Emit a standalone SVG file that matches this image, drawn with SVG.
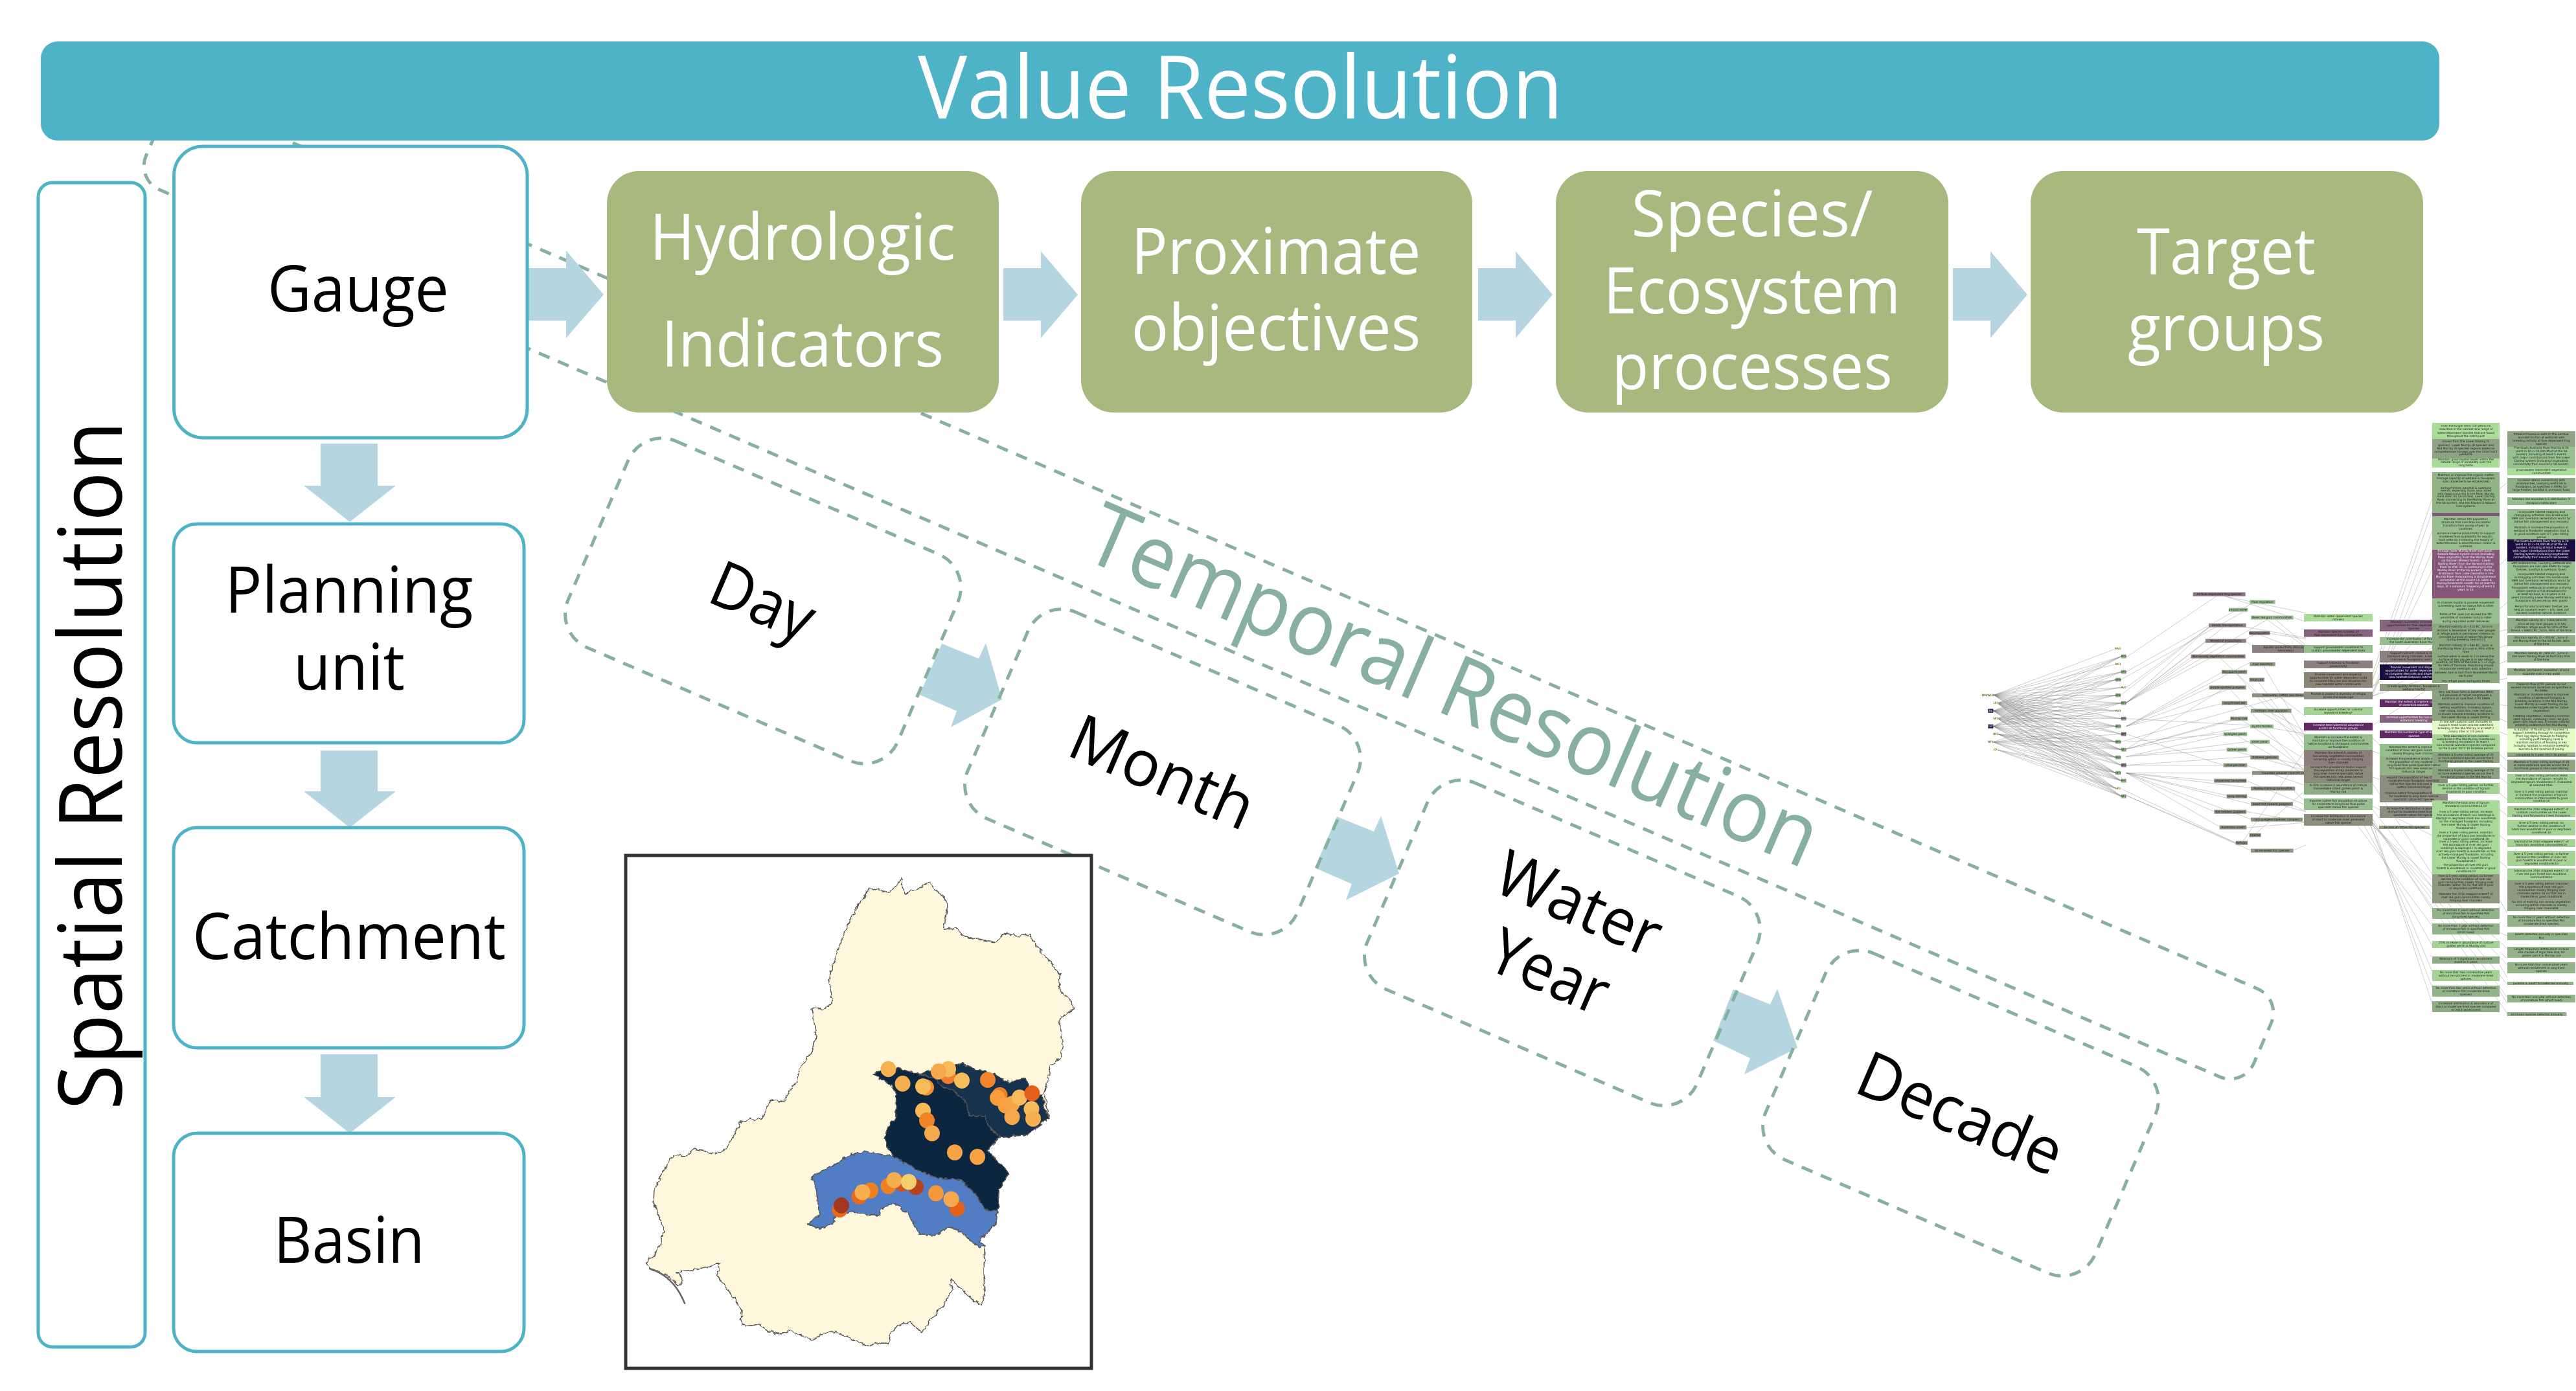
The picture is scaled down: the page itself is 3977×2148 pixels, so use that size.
<svg xmlns="http://www.w3.org/2000/svg" width="3977" height="2148" viewBox="0 0 3977 2148">
<defs>
<style>
text{font-family:"Open Sans","Liberation Sans",sans-serif;font-variant-ligatures:none}
.m{font-size:99px;fill:#000;text-anchor:middle}
.w{font-size:99px;fill:#fff;text-anchor:middle}
.box{fill:#fff;stroke:#4FB3C8;stroke-width:5}
.gr{fill:#A8B980}
.ar{fill:#B5D6E1}
.dash{fill:none;stroke:#87B0A0;stroke-width:5;stroke-dasharray:18 14}
.map{stroke:#555;stroke-width:3;stroke-linejoin:round}
.th text{font-family:"DejaVu Sans",sans-serif;font-size:4.4px;fill:#1c1c1c;text-anchor:middle}
.th .wt text{fill:#f4f0f4}
.sp text{font-size:13.2px}
.ln{fill:none;stroke:#9a9a9a;stroke-width:.6;stroke-opacity:.8}
.ln0{fill:none;stroke:#777;stroke-width:1.8;stroke-opacity:.6}
</style>
<filter id="soft" x="-2%" y="-2%" width="104%" height="104%"><feGaussianBlur stdDeviation="0.45"/></filter>
<filter id="wig" x="-5%" y="-5%" width="110%" height="110%"><feTurbulence type="fractalNoise" baseFrequency="0.07" numOctaves="2" seed="4"/><feDisplacementMap in="SourceGraphic" scale="14" xChannelSelector="R" yChannelSelector="G"/></filter>
</defs>
<rect width="3977" height="2148" fill="#fff"/>
<g id="temporal-frame"><rect class="dash" x="-1771.5" y="-74" width="3543" height="148" rx="40" transform="translate(1866,910) rotate(23.3)"/></g>
<g id="value-resolution"><rect x="63" y="64" width="3703" height="153" rx="26" fill="#4FB3C8"/><text class="w" x="1915" y="183" style="font-size:135px" textLength="996" lengthAdjust="spacingAndGlyphs">Value Resolution</text></g>
<g id="spatial-resolution"><rect class="box" x="59" y="282" width="165" height="1798" rx="22"/><text class="m" style="font-size:135px" transform="translate(188,1182) rotate(-90)" textLength="1064" lengthAdjust="spacingAndGlyphs">Spatial Resolution</text></g>
<g id="connectors">
<polygon class="ar" points="816,414 874,414 874,387 932,455 874,522 874,495 816,495"/>
<polygon class="ar" points="1549,414 1607,414 1607,388 1664,455 1607,522 1607,495 1549,495"/>
<polygon class="ar" points="2282,414 2340,414 2340,388 2397,455 2340,522 2340,495 2282,495"/>
<polygon class="ar" points="3015,414 3073,414 3073,388 3130,455 3073,522 3073,495 3015,495"/>
<polygon class="ar" points="495,685 583,685 583,750 611,750 540,806 469,750 495,750"/>
<polygon class="ar" points="495,1159 583,1159 583,1222 611,1222 540,1278 469,1222 495,1222"/>
<polygon class="ar" points="495,1628 583,1628 583,1694 611,1694 540,1750 469,1694 495,1694"/>
<polygon class="ar" points="1454,994 1511,1017 1522,993 1547,1080 1468,1123 1477,1098 1420,1073"/>
<polygon class="ar" points="2064,1261 2121,1284 2132,1260 2160,1349 2078,1390 2087,1365 2030,1340"/>
<polygon class="ar" points="2676,1528 2733,1551 2744,1527 2775,1618 2693,1659 2702,1634 2645,1607"/>
</g>
<g id="gauge"><rect class="box" x="268.500" y="226" width="545.500" height="450" rx="45"/><text class="m" x="553" y="481" textLength="280" lengthAdjust="spacingAndGlyphs">Gauge</text></g>
<g id="planning-unit"><rect class="box" x="268" y="809" width="541" height="338" rx="36"/><text class="m" x="539" y="946" textLength="383" lengthAdjust="spacingAndGlyphs">Planning</text><text class="m" x="539" y="1065" textLength="172" lengthAdjust="spacingAndGlyphs">unit</text></g>
<g id="catchment"><rect class="box" x="268" y="1278" width="541" height="340" rx="36"/><text class="m" x="539" y="1481" textLength="484" lengthAdjust="spacingAndGlyphs">Catchment</text></g>
<g id="basin"><rect class="box" x="268" y="1750" width="541" height="337" rx="36"/><text class="m" x="539" y="1950" textLength="233" lengthAdjust="spacingAndGlyphs">Basin</text></g>
<g id="hydrologic-indicators"><rect class="gr" x="937" y="264" width="605" height="373" rx="50"/><text class="w" x="1239" y="401" textLength="472" lengthAdjust="spacingAndGlyphs">Hydrologic</text><text class="w" x="1239" y="566" textLength="436" lengthAdjust="spacingAndGlyphs">Indicators</text></g>
<g id="proximate-objectives"><rect class="gr" x="1669" y="264" width="604" height="373" rx="50"/><text class="w" x="1970" y="423" textLength="447" lengthAdjust="spacingAndGlyphs">Proximate</text><text class="w" x="1970" y="541" textLength="447" lengthAdjust="spacingAndGlyphs">objectives</text></g>
<g id="species-ecosystem"><rect class="gr" x="2402" y="264" width="606" height="373" rx="50"/><text class="w" x="2705" y="365" textLength="373" lengthAdjust="spacingAndGlyphs">Species/</text><text class="w" x="2705" y="484" textLength="459" lengthAdjust="spacingAndGlyphs">Ecosystem</text><text class="w" x="2705" y="601" textLength="433" lengthAdjust="spacingAndGlyphs">processes</text></g>
<g id="target-groups"><rect class="gr" x="3135" y="264" width="606" height="373" rx="50"/><text class="w" x="3437" y="423" textLength="276" lengthAdjust="spacingAndGlyphs">Target</text><text class="w" x="3437" y="541" textLength="304" lengthAdjust="spacingAndGlyphs">groups</text></g>
<g id="temporal-title" transform="translate(2244,1060) rotate(23.3)"><text style="font-size:135px;fill:#87B0A0;text-anchor:middle" y="45" textLength="1215" lengthAdjust="spacingAndGlyphs">Temporal Resolution</text></g>
<g id="day" transform="translate(1178,928) rotate(23.3)"><rect class="dash" x="-277" y="-173.500" width="554" height="347" rx="56"/><text class="m" y="35" textLength="165" lengthAdjust="spacingAndGlyphs">Day</text></g>
<g id="month" transform="translate(1795,1192) rotate(23.3)"><rect class="dash" x="-277" y="-173.500" width="554" height="347" rx="56"/><text class="m" y="35" textLength="300" lengthAdjust="spacingAndGlyphs">Month</text></g>
<g id="water-year" transform="translate(2412,1456) rotate(23.3)"><rect class="dash" x="-277" y="-173.500" width="554" height="347" rx="56"/><text class="m" y="-31" textLength="268" lengthAdjust="spacingAndGlyphs">Water</text><text class="m" y="83" textLength="190" lengthAdjust="spacingAndGlyphs">Year</text></g>
<g id="decade" transform="translate(3027,1719) rotate(23.3)"><rect class="dash" x="-277" y="-173.500" width="554" height="347" rx="56"/><text class="m" y="35" textLength="335" lengthAdjust="spacingAndGlyphs">Decade</text></g>

<g id="map">
<rect x="966" y="1321" width="719" height="792" fill="#fff" stroke="#333" stroke-width="5"/>
<g transform="translate(940,1300) scale(.5,.5357)">
<g filter="url(#wig)">
<polygon class="map" fill="#FFF8DD" points="905,103 908,125 912,148 935,140 965,128 990,118 1012,140 1030,155 1048,180 1040,215 1035,252 1075,250 1090,270 1115,275 1140,282 1170,285 1195,290 1222,262 1260,272 1300,266 1320,300 1340,320 1360,345 1395,385 1390,425 1425,455 1437,480 1390,510 1402,580 1395,620 1365,645 1345,730 1360,795 1290,845 1205,850 1170,890 1235,955 1205,1000 1200,1065 1195,1100 1145,1150 1160,1165 1158,1240 1160,1300 1150,1335 1125,1322 1100,1300 1055,1260 1060,1290 1030,1340 1000,1370 965,1415 930,1382 895,1395 870,1410 865,1445 830,1445 795,1452 745,1430 690,1410 660,1420 625,1435 590,1420 560,1410 525,1418 490,1410 465,1390 440,1395 410,1390 412,1350 375,1300 335,1250 342,1215 305,1225 270,1232 210,1240 230,1265 215,1280 180,1250 125,1230 115,1212 140,1190 160,1160 170,1120 150,1070 138,1040 140,1000 170,950 180,925 200,905 240,905 265,885 295,890 320,900 355,890 385,850 405,810 440,800 470,800 500,745 540,750 560,715 580,690 590,650 630,600 640,560 628,480 660,485 690,465 680,390 705,320 720,280 735,245 775,175 805,135 865,145 890,125"/>
<polygon class="map" fill="#517DC5" points="625,965 690,935 740,905 790,890 860,905 880,905 950,945 1010,968 1090,975 1135,1020 1165,1060 1200,1065 1195,1100 1145,1150 1160,1165 1145,1170 1110,1145 1080,1120 1050,1110 1005,1135 960,1130 925,1075 890,1045 845,1050 835,1075 800,1075 750,1065 695,1085 690,1105 650,1115 615,1100 650,1075 640,1000"/>
<polygon class="map" fill="#0E2640" points="815,670 840,658 890,652 960,670 1010,680 1020,700 1060,715 1100,745 1115,790 1160,790 1170,815 1205,850 1170,890 1235,955 1205,1000 1200,1065 1165,1060 1135,1020 1090,975 1010,968 950,945 880,905 860,880 850,855 870,805 885,800 888,725 870,700 840,685"/>
<polygon class="map" fill="#14304D" points="960,670 1020,645 1090,640 1130,655 1180,668 1235,692 1285,680 1300,710 1340,735 1345,770 1360,795 1335,815 1290,845 1205,850 1170,815 1160,790 1115,790 1100,745 1060,715 1020,700 1010,680"/>
</g>
<path d="M125 1230Q200 1250 235 1332" fill="none" stroke="#666" stroke-width="5"/>
<g>
<ellipse cx="863" cy="655" rx="24" ry="23" fill="#F6B152"/>
<ellipse cx="907" cy="697" rx="24" ry="23" fill="#F5AE50"/>
<ellipse cx="980" cy="708" rx="24" ry="23" fill="#F58F30"/>
<ellipse cx="970" cy="705" rx="24" ry="23" fill="#F6BA58"/>
<ellipse cx="1048" cy="675" rx="24" ry="23" fill="#F08030"/>
<ellipse cx="1048" cy="655" rx="24" ry="23" fill="#F6BC5B"/>
<ellipse cx="1018" cy="662" rx="24" ry="23" fill="#F6A94C"/>
<ellipse cx="1090" cy="688" rx="24" ry="23" fill="#F6BE5A"/>
<ellipse cx="1170" cy="686" rx="24" ry="23" fill="#F2842B"/>
<ellipse cx="1207" cy="730" rx="24" ry="23" fill="#F0801F"/>
<ellipse cx="1200" cy="738" rx="24" ry="23" fill="#F89C3C"/>
<ellipse cx="1225" cy="760" rx="24" ry="23" fill="#F9A040"/>
<ellipse cx="1245" cy="755" rx="24" ry="23" fill="#F8A54A"/>
<ellipse cx="1268" cy="737" rx="24" ry="23" fill="#F6BA58"/>
<ellipse cx="1307" cy="725" rx="24" ry="23" fill="#E35F1A"/>
<ellipse cx="1305" cy="770" rx="24" ry="23" fill="#F6BC5B"/>
<ellipse cx="1245" cy="793" rx="24" ry="23" fill="#F6A94C"/>
<ellipse cx="1310" cy="798" rx="24" ry="23" fill="#F6B052"/>
<ellipse cx="970" cy="775" rx="24" ry="23" fill="#F6BA58"/>
<ellipse cx="982" cy="803" rx="24" ry="23" fill="#F08429"/>
<ellipse cx="998" cy="840" rx="24" ry="23" fill="#F6A94C"/>
<ellipse cx="1068" cy="895" rx="24" ry="23" fill="#F5A344"/>
<ellipse cx="1138" cy="908" rx="24" ry="23" fill="#F5A344"/>
<ellipse cx="808" cy="1005" rx="24" ry="23" fill="#F0801F"/>
<ellipse cx="773" cy="1022" rx="24" ry="23" fill="#E8691A"/>
<ellipse cx="783" cy="1010" rx="24" ry="23" fill="#F6AE50"/>
<ellipse cx="863" cy="992" rx="24" ry="23" fill="#F0801F"/>
<ellipse cx="905" cy="985" rx="24" ry="23" fill="#D0551C"/>
<ellipse cx="948" cy="995" rx="24" ry="23" fill="#B8421B"/>
<ellipse cx="881" cy="975" rx="24" ry="23" fill="#F6AD50"/>
<ellipse cx="926" cy="980" rx="24" ry="23" fill="#F2CF6A"/>
<ellipse cx="1010" cy="1013" rx="24" ry="23" fill="#F5983A"/>
<ellipse cx="1075" cy="1057" rx="24" ry="23" fill="#E4611A"/>
<ellipse cx="1057" cy="1030" rx="24" ry="23" fill="#F6A94C"/>
<ellipse cx="713" cy="1060" rx="24" ry="23" fill="#E8691A"/>
<ellipse cx="718" cy="1048" rx="24" ry="23" fill="#A33820"/>
</g>
</g>
</g>

<g id="network" class="th" filter="url(#soft)">
<g transform="translate(3040,900) scale(.3333)">
<path class="ln0" d="M115 520L680 305M115 520L705 341M115 520L680 377M115 520L705 413M115 520L680 449M115 520L705 485M115 520L680 521M115 520L705 557M115 520L680 593M115 520L705 629M115 520L680 665M115 520L705 701M115 520L680 737M115 520L705 773M115 520L680 809M115 520L705 845M115 520L680 881M115 520L705 917M130 557L705 341M130 557L705 413M130 557L680 449M130 557L705 485M130 557L680 521M130 557L705 557M130 557L680 593M130 557L705 629M130 557L680 665M130 557L705 701M130 557L680 737M130 557L705 773M130 557L680 809M130 557L705 845M130 557L680 881M130 557L705 917M130 557L680 953M130 557L705 989M112 593L705 341M112 593L705 413M112 593L680 449M112 593L705 485M112 593L680 521M112 593L705 557M112 593L680 593M112 593L705 629M112 593L680 665M112 593L705 701M112 593L680 737M112 593L705 773M112 593L680 809M112 593L705 845M112 593L680 881M112 593L705 917M112 593L680 953M112 593L705 989M132 629L705 341M132 629L680 449M132 629L680 521M132 629L705 557M132 629L705 629M132 629L680 665M132 629L680 737M132 629L705 773M132 629L680 809M132 629L680 881M132 629L705 917M132 629L680 953M132 629L705 989M112 665L705 341M112 665L705 413M112 665L680 449M112 665L680 521M112 665L705 557M112 665L680 593M112 665L680 665M112 665L680 737M112 665L705 773M112 665L680 809M112 665L705 845M112 665L680 881M112 665L705 917M112 665L680 953M112 665L705 989M135 701L680 737M135 701L705 773M135 701L680 809M135 701L705 845M135 701L680 881M135 701L705 917M135 701L680 953M135 701L705 989M110 737L705 557M110 737L680 665M110 737L705 701M110 737L680 737M110 737L705 773M110 737L680 809M110 737L680 881M110 737L705 917M110 737L680 953M110 737L705 989M128 773L680 881M128 773L705 917M128 773L680 953M128 773L705 989"/>
<path class="ln0" d="M728 345L1145 62M728 412L1240 125M702 449L1270 135M728 485L1112 205M702 521L1112 205M728 557L1112 205M728 557L1180 205M728 555L1095 275M728 557L1150 278M728 555L1030 345M728 555L1380 170M728 555L1330 235M728 665L1300 370M728 665L1170 415M728 665L1112 485M728 665L1210 490M728 665L1170 560M728 629L1300 660M728 770L1180 490M728 770L1210 635M728 770L1215 640M728 770L1300 665M728 737L1178 700M702 737L1440 530M728 805L1193 773M728 805L1300 735M728 805L1180 705M728 845L1178 845M728 845L1305 805M728 881L1310 881M728 881L1135 917M728 881L1305 950M728 881L1193 985M728 881L1305 1025M728 881L1135 1060M728 881L1160 1130M728 881L1305 1095M728 701L1178 845M702 953L1235 1205M728 985L1235 1205M728 985L1305 1240"/>
<path class="ln0" d="M1185 62L1560 140M1185 62L1560 180M1250 130L1310 95M1283 205L1560 255M1283 270L1310 295M1420 170L1560 290M1380 170L1560 300M1393 235L1560 260M1345 240L1560 325M1165 350L1560 720M1240 422L1560 780M1365 386L1560 720M1340 458L1560 760M1210 494L1560 880M1285 560L1560 720M1440 530L1560 620M1400 602L1560 690M1265 638L1560 820M1405 674L1560 700M1245 710L1560 890M1390 746L1560 870M1240 782L1560 870M1430 818L1560 850M1283 845L1560 940M1285 917L1560 1030M1505 962L1560 1020M1285 990L1560 1060M1500 1030L1560 1060M1285 1060L1560 1110M1540 1097L1560 1085M1285 1135L1560 1110M1330 1160L1560 960M1270 1196L1560 770M1500 1240L1560 1215"/>
<g id="sp0" class="sp">
<g id="s0a"><rect x="60" y="512" width="55" height="18" fill="#FFFFE0"/><text x="87" y="525">DM/WLB</text></g>
<g id="s0b"><rect x="112" y="548" width="24" height="18" fill="#FFFFE0"/><text x="124" y="561">LF2</text></g>
<g id="s0c" class="wt"><rect x="88" y="584" width="24" height="18" fill="#1C0F3F"/><text x="100" y="597">BK</text></g>
<g id="s0d"><rect x="112" y="620" width="24" height="18" fill="#FFFFE0"/><text x="124" y="633">SF2</text></g>
<g id="s0e" class="wt"><rect x="88" y="656" width="24" height="18" fill="#1C0F3F"/><text x="100" y="669">GZ</text></g>
<g id="s0f"><rect x="112" y="692" width="24" height="18" fill="#FFFFE0"/><text x="124" y="705">BF2</text></g>
<g id="s0g"><rect x="88" y="728" width="24" height="18" fill="#FFFFE0"/><text x="100" y="741">BF1</text></g>
<g id="s0h"><rect x="112" y="764" width="20" height="18" fill="#FFFFE0"/><text x="122" y="777">CF</text></g>
</g>
<g id="sp1" class="sp">
<g id="s1a"><rect x="678" y="296" width="24" height="18" fill="#FFFFE0"/><text x="690" y="309">MV2</text></g>
<g id="s1b"><rect x="704" y="332" width="24" height="18" fill="#97BE8E"/><text x="716" y="345">PP3</text></g>
<g id="s1c"><rect x="678" y="368" width="24" height="18" fill="#FFFFE0"/><text x="690" y="381">DS1</text></g>
<g id="s1d"><rect x="704" y="404" width="24" height="18" fill="#97BE8E"/><text x="716" y="417">AF3</text></g>
<g id="s1e"><rect x="678" y="440" width="24" height="18" fill="#97BE8E"/><text x="690" y="453">AP8</text></g>
<g id="s1f"><rect x="704" y="476" width="24" height="18" fill="#FFFFE0"/><text x="716" y="489">AV2</text></g>
<g id="s1g"><rect x="678" y="512" width="24" height="18" fill="#97BE8E"/><text x="690" y="525">AP6</text></g>
<g id="s1h"><rect x="704" y="548" width="24" height="18" fill="#97BE8E"/><text x="716" y="561">BF3</text></g>
<g id="s1i"><rect x="678" y="584" width="24" height="18" fill="#FFFFE0"/><text x="690" y="597">AV3</text></g>
<g id="s1j"><rect x="704" y="620" width="24" height="18" fill="#A8A8A0"/><text x="716" y="633">BP9</text></g>
<g id="s1k"><rect x="678" y="656" width="24" height="18" fill="#97BE8E"/><text x="690" y="669">BF3</text></g>
<g id="s1l"><rect x="704" y="692" width="24" height="18" fill="#8C8080"/><text x="716" y="705">BP7</text></g>
<g id="s1m"><rect x="678" y="728" width="24" height="18" fill="#97BE8E"/><text x="690" y="741">BP4</text></g>
<g id="s1n"><rect x="704" y="764" width="24" height="18" fill="#97BE8E"/><text x="716" y="777">NF2</text></g>
<g id="s1o"><rect x="678" y="800" width="24" height="18" fill="#97BE8E"/><text x="690" y="813">BK4</text></g>
<g id="s1p"><rect x="704" y="836" width="24" height="18" fill="#8C8080"/><text x="716" y="849">SF3</text></g>
<g id="s1q"><rect x="678" y="872" width="24" height="18" fill="#97BE8E"/><text x="690" y="885">NF3</text></g>
<g id="s1r"><rect x="704" y="908" width="24" height="18" fill="#97BE8E"/><text x="716" y="921">PP2</text></g>
<g id="s1s"><rect x="678" y="944" width="24" height="18" fill="#FFFFE0"/><text x="690" y="957">SF2</text></g>
<g id="s1t"><rect x="704" y="980" width="24" height="18" fill="#97BE8E"/><text x="716" y="993">NF1</text></g>
</g>
<g id="sp2" class="sp">
<g id="s2a"><rect x="1037" y="44" width="243" height="18" fill="#8D7085"/><text x="1158" y="57">All flow-dependent frog species</text></g>
<g id="s2b"><rect x="1203" y="116" width="87" height="18" fill="#97BE8E"/><text x="1246" y="129">ground water</text></g>
<g id="s2c"><rect x="1110" y="188" width="173" height="18" fill="#8C8080"/><text x="1196" y="201">Abiotic transportation</text></g>
<g id="s2d"><rect x="1095" y="260" width="188" height="18" fill="#8C8080"/><text x="1189" y="273">Terrestrial productivity</text></g>
<g id="s2e"><rect x="1028" y="332" width="252" height="18" fill="#8D7F7C"/><text x="1154" y="345">Non-woody vegetation communities</text></g>
<g id="s2f"><rect x="1170" y="404" width="118" height="18" fill="#8D9A80"/><text x="1229" y="417">Macquarie perch</text></g>
<g id="s2g"><rect x="1112" y="476" width="171" height="18" fill="#8D8E80"/><text x="1197" y="489">purple-spotted gudgeon</text></g>
<g id="s2h"><rect x="1170" y="548" width="118" height="18" fill="#8D8E80"/><text x="1229" y="561">long-finned eel</text></g>
<g id="s2i"><rect x="1210" y="620" width="80" height="18" fill="#8D9A80"/><text x="1250" y="633">Murray cod</text></g>
<g id="s2j"><rect x="1178" y="692" width="110" height="18" fill="#97BE8E"/><text x="1233" y="705">spangled perch</text></g>
<g id="s2k"><rect x="1193" y="764" width="95" height="18" fill="#97BE8E"/><text x="1240" y="777">golden perch</text></g>
<g id="s2l"><rect x="1178" y="836" width="110" height="18" fill="#8D9A80"/><text x="1233" y="849">olive perchlet</text></g>
<g id="s2m"><rect x="1135" y="908" width="150" height="18" fill="#8D8E80"/><text x="1210" y="921">unspecked hardyhead</text></g>
<g id="s2n"><rect x="1193" y="980" width="95" height="18" fill="#8D8E80"/><text x="1240" y="993">bony herring</text></g>
<g id="s2o"><rect x="1135" y="1052" width="150" height="18" fill="#8D8E80"/><text x="1210" y="1065">flat-headed gudgeon</text></g>
<g id="s2p"><rect x="1160" y="1124" width="125" height="18" fill="#8D8E80"/><text x="1222" y="1137">Australian smelt</text></g>
<g id="s2q"><rect x="1235" y="1196" width="55" height="18" fill="#8D8E80"/><text x="1262" y="1209">Refugia</text></g>
</g>
<g id="sp3" class="sp">
<g id="s3a"><rect x="1300" y="80" width="118" height="18" fill="#97BE8E"/><text x="1359" y="93">Flow regulation</text></g>
<g id="s3b"><rect x="1305" y="152" width="197" height="18" fill="#97BE8E"/><text x="1403" y="165">River red gum communities</text></g>
<g id="s3c"><rect x="1298" y="224" width="95" height="18" fill="#8C8080"/><text x="1345" y="237">Decomposition</text></g>
<g id="s3d"><rect x="1311" y="288" width="312" height="36" fill="#8C8080"/><text x="1467" y="302">Aquatic productivity (Primary &amp;</text><text x="1467" y="317">Secondary)</text></g>
<g id="s3e"><rect x="1300" y="368" width="118" height="18" fill="#8D9A80"/><text x="1359" y="381">river blackfish</text></g>
<g id="s3f"><rect x="1298" y="440" width="70" height="18" fill="#8D8E80"/><text x="1333" y="453">trout cod</text></g>
<g id="s3g"><rect x="1311" y="512" width="340" height="18" fill="#8D8E80"/><text x="1480" y="525">freshwater catfish (eel-tailed catfish)</text></g>
<g id="s3h"><rect x="1305" y="584" width="188" height="18" fill="#8D9A80"/><text x="1399" y="597">northern river blackfish</text></g>
<g id="s3i"><rect x="1302" y="656" width="108" height="18" fill="#97BE8E"/><text x="1356" y="669">Hyrtl's tandan</text></g>
<g id="s3j"><rect x="1302" y="728" width="90" height="18" fill="#97BE8E"/><text x="1347" y="741">silver perch</text></g>
<g id="s3k"><rect x="1303" y="800" width="132" height="18" fill="#8D8E80"/><text x="1369" y="813">flathead galaxias</text></g>
<g id="s3l"><rect x="1311" y="872" width="330" height="18" fill="#8D8E80"/><text x="1476" y="885">mountain galaxias (species complex)</text></g>
<g id="s3m"><rect x="1305" y="944" width="205" height="18" fill="#8D8E80"/><text x="1407" y="957">Murray-Darling rainbowfish</text></g>
<g id="s3n"><rect x="1305" y="1016" width="195" height="18" fill="#8D8E80"/><text x="1402" y="1029">dwarf flat-headed gudgeon</text></g>
<g id="s3o"><rect x="1305" y="1088" width="240" height="18" fill="#8D9A80"/><text x="1425" y="1101">carp gudgeon (species complex)</text></g>
<g id="s3p"><rect x="1298" y="1160" width="54" height="18" fill="#8D8E80"/><text x="1325" y="1173">Habitat</text></g>
<g id="s3q"><rect x="1305" y="1232" width="197" height="18" fill="#8D9A80"/><text x="1403" y="1245">All recorded fish species</text></g>
</g>
</g>
<path class="ln" d="M3663 1040L3755 770M3663 1050L3755 790M3663 1070L3755 820M3663 1075L3755 850M3663 1070L3755 880M3663 1060L3755 960M3663 1060L3755 1000M3663 1075L3755 1030M3663 1075L3755 1045M3663 1120L3755 1060M3663 1140L3674 1150M3663 1160L3755 1190M3663 1200L3755 1230M3663 1210L3755 1350M3663 1245L3755 1290M3663 1250L3755 1370M3663 1265L3755 1405M3663 1270L3871 1540M3663 1270L3871 1520M3663 1270L3871 1565M3663 1275L3871 1490M3663 1275L3871 1465M3650 1275L3755 1460M3640 1275L3755 1430M3660 1275L3755 1500M3660 1275L3755 1525M3663 1270L3755 1550M3859 755L3871 745M3859 872L3871 862M3859 940L3871 930M3859 975L3871 972M3859 1000L3871 996M3859 1025L3871 1020M3859 1050L3871 1047M3859 1088L3871 1090M3859 1110L3871 1115M3859 1130L3871 1135M3859 1165L3871 1175M3859 1180L3871 1190M3859 1200L3871 1210M3859 1225L3871 1235M3859 1250L3871 1260M3859 1290L3871 1300M3859 1330L3871 1340M3859 1390L3871 1410M3859 1440L3871 1445M3859 1470L3871 1480M3859 1490L3871 1510M3859 1530L3871 1550"/>
<g id="colC" transform="translate(3726.500,0)">
<g id="c1"><rect x="-52.500" y="957" width="105" height="18" fill="#86647F"/><text y="962">Maintain successful 20 breeding</text><text y="967">opportunities for flow-dependent frog</text><text y="972">species</text></g>
<g id="c2"><rect x="-52.500" y="984" width="105" height="12" fill="#97BE8E"/><text y="988">Increase the contribution of flows into</text><text y="993">the South Australian River Murray</text></g>
<g id="c3"><rect x="-52.500" y="1005" width="105" height="18" fill="#8C8080"/><text y="1010">Support nutrient, carbon &amp; biotic</text><text y="1015">transport along channels, &amp; between</text><text y="1020">channels &amp; floodplains/ wetlands</text></g>
<g id="c4" class="wt"><rect x="-52.500" y="1026" width="105" height="24" fill="#1C0F3F"/><text y="1031.500">Provide movement and dispersal</text><text y="1036.500">opportunities for water dependent biota</text><text y="1041.500">to complete lifecycles and disperse into</text><text y="1046.500">new habitats between catchments</text></g>
<g id="c6" class="wt"><rect x="-52.500" y="1080" width="105" height="12" fill="#5E2A64"/><text y="1084.500">Maintain the extent &amp; improve condition</text><text y="1089.500">of waterbird habitats</text></g>
<g id="c7" class="wt"><rect x="-52.500" y="1104" width="105" height="12" fill="#86647F"/><text y="1108.500">Increase opportunities for non-colonial</text><text y="1113.500">waterbird breeding</text></g>
<g id="c8" class="wt"><rect x="-52.500" y="1128" width="105" height="12" fill="#5E2A64"/><text y="1132">Maintain the number &amp; type of waterbird</text><text y="1137.500">species</text></g>
<g id="c9"><rect x="-52.500" y="1149" width="105" height="19" fill="#97BE8E"/><text y="1155">Maintain the extent &amp; improve the</text><text y="1160">condition of river red gum communities</text><text y="1165">closely fringing river channels</text></g>
<g id="c10"><rect x="-52.500" y="1168" width="105" height="29" fill="#93B389"/><text y="1173">Increase the prevalence and/or expand</text><text y="1178">the population of key moderate to</text><text y="1183">long-lived flow-pulse specialist native</text><text y="1188">fish species into new areas (within</text><text y="1193">historical range)</text></g>
<g id="c11"><rect x="-52.500" y="1197" width="105" height="25" fill="#8D8E80"/><text y="1202">expand the population of key short to</text><text y="1207">moderate-lived floodplain specialist</text><text y="1212">native fish species into new areas</text><text y="1217">(within historical range)</text></g>
<g id="c12"><rect x="-52.500" y="1222" width="105" height="17" fill="#8D8E80"/><text y="1226">Improve native fish population structure</text><text y="1231">for moderate to long-lived riverine</text><text y="1236">specialist native fish species</text></g>
<g id="c13"><rect x="-52.500" y="1245" width="105" height="18" fill="#8D8E80"/><text y="1250">Increase the distribution &amp; abundance</text><text y="1255">of short to moderate-lived floodplain</text><text y="1260">specialist native fish species</text></g>
</g>
<g id="colD" transform="translate(3807,0)">
<g id="d1"><rect x="-52" y="653" width="104" height="25" fill="#A9DB99"/><text y="659">Over the longer term (20 years) no</text><text y="664">reduction in the number and range of</text><text y="669.500">water-dependent species that are found</text><text y="674.500">throughout the catchment</text></g>
<g id="d2"><rect x="-52" y="678" width="104" height="30" fill="#8FA284"/><text y="683">known from the Lower Darling (5</text><text y="689">species), Lower Murray (8 species) and</text><text y="694">Mid Murray (5 species) regions based on</text><text y="698.500">comprehensive surveys over the 2010-2017</text><text y="703">period26</text></g>
<g id="d3"><rect x="-52" y="708" width="104" height="14" fill="#A9DB99"/><text y="710.500">Maintain groundwater levels within the</text><text y="715">natural range of variability over the</text><text y="720">long-term</text></g>
<g id="d4"><rect x="-52" y="729" width="104" height="63" fill="#8FB585"/><text y="734.500">Maintain or improve the organic matter</text><text y="740">storage capacity of wetland &amp; floodplain</text><text y="745">soils (baseline to be established)</text><text y="755">during freshes, bankfull &amp; overbank</text><text y="759">events, especially those associated</text><text y="764">with flows occurring in the River Murray</text><text y="768">main stem (to SA border), Lower Darling</text><text y="773">River (connecting to the Murray River at</text><text y="778">the SA border), and the Edward &amp; Wakool</text><text y="783">river systems.</text></g>
<g id="d5"><rect x="-52" y="792" width="104" height="5" fill="#7F5A78"/></g>
<g id="d6"><rect x="-52" y="797" width="104" height="52" fill="#97BE8E"/><text y="803">Maintain native fish population</text><text y="808">structure that indicates successful</text><text y="813">transition from young-of-year to</text><text y="818">juveniles</text><text y="825">enhance riverine productivity to support</text><text y="830">increased food availability for aquatic</text><text y="835">food webs by increasing the supply of</text><text y="840">autochthonous &amp; allochthonous carbon &amp;</text><text y="845">nutrients</text></g>
<g id="d7" class="wt"><rect x="-52" y="849" width="104" height="75" fill="#86577A"/><text y="852">through lower Murray River weir pools -</text><text y="857">Edward-Wakool system rivers (including</text><text y="862">flows originating from the Murray River</text><text y="867">via Barmah-Millewa forest) - Lower</text><text y="872">Darling River (from the Barwon-Darling</text><text y="877">River to Weir 32, &amp; continuing to the</text><text y="882">Murray River at the SA border) - Darling</text><text y="887">Anabranch from Lake Cawndilla to the</text><text y="892">Murray River (maintaining a simultaneous</text><text y="897">connection at the source i.e. lakes &amp;</text><text y="902">Murray/Anabranch mouth) for at least 90</text><text y="907">days, at a minimum frequency of least 3</text><text y="912">years in 10.</text></g>
<g id="d8"><rect x="-52" y="924" width="104" height="39" fill="#97BE8E"/><text y="931.500">In-channel habitat &amp; provide movement</text><text y="936.500">&amp; breeding cues for native fish &amp; other</text><text y="941.500">aquatic biota</text><text y="950">Rates of fall does not exceed the 5th</text><text y="955">percentile of modelled natural rates</text><text y="960.500">during regulated water deliveries</text></g>
<g id="d9"><rect x="-52" y="963" width="104" height="30" fill="#8BAA80"/><text y="969">Maintain salinity at &lt;410 EC _S/cm in</text><text y="975">October &amp; November at key river gauges</text><text y="980">&amp; refuge pools in permanent streams to</text><text y="985">promate survival of native fish larvae</text><text y="989">during breeding seasons21</text></g>
<g id="d10"><rect x="-52" y="993" width="104" height="62" fill="#8BAA80"/><text y="998">Maintain salinity at &lt;580 EC _S/cm in</text><text y="1003">the Murray River d/s Lock 6, 95% of the</text><text y="1008">time</text><text y="1015">surface water &amp; down to 2 m below the</text><text y="1020">surface at key gauges &amp; in key refuge</text><text y="1024">pools18, for 95% of the time &amp; &gt;=2 mg/L</text><text y="1029">for 99% of the time. Monitoring should</text><text y="1034">incorporate overnight data collection</text><text y="1040">between 3am &amp; 6am from November-March</text><text y="1045">each year</text><text y="1053">key refuge pools during dry times</text></g>
<g id="d11" transform="translate(-80.500,0)"><rect x="-52.500" y="1056" width="105" height="11" fill="#8D9A80"/><text y="1060.500">Create quality instream, floodplain &amp;</text><text y="1065.500">wetland habitat</text></g>
<g id="d12"><rect x="-52" y="1065" width="104" height="48" fill="#8CA37F"/><text y="1070">Very low flows (VFs) &amp; baseflows (BFs)</text><text y="1075">are provided at target magnitudes &amp;</text><text y="1080">durations as specified in PU EWRs</text><text y="1089">Maintain extent &amp; improve condition of</text><text y="1094">nesting vegetation, including lignum,</text><text y="1099">river cooba, black box, river red gum,</text><text y="1104">in known colonial breeding locations in</text><text y="1109">the Lower Murray &amp; Lower Darling</text></g>
<g id="d13"><rect x="-52" y="1113" width="104" height="21" fill="#E4FBC6"/><text y="1116">in line with natural cues (includes to</text><text y="1121">support small-scale colonial waterbird</text><text y="1126">breeding in the Mid Murray in at least 2</text><text y="1131">colony sites in 2/5 years</text></g>
<g id="d14"><rect x="-52" y="1134" width="104" height="27" fill="#A5D396"/><text y="1137.500">Total abundance of non-colonial</text><text y="1142.500">waterbirds in the Mid Murray maintained</text><text y="1147">&amp; breeding recorded in at least 1</text><text y="1152">non-colonial waterbird species compared</text><text y="1157">to the 5-year 2012-16 baseline period</text></g>
<g id="d15"><rect x="-52" y="1161" width="104" height="17" fill="#8CA37F"/><text y="1166.500">Maintain a 5-year rolling average of 25</text><text y="1171.500">or more waterbird species across the 5</text><text y="1176.500">functional groups in the Lower Darling</text></g>
<g id="d16"><rect x="-52" y="1185" width="104" height="18" fill="#8CA37F"/><text y="1190.500">Maintain a 5-year rolling average of 23</text><text y="1195.500">or more waterbird species across the 5</text><text y="1200.500">functional groups in the Mid Murray</text></g>
<g id="d17"><rect x="-52" y="1209" width="104" height="17" fill="#A5D396"/><text y="1214">Over a 5-year rolling period, no further</text><text y="1219">decline in the condition of lignum</text><text y="1224">shrublands in poor condition</text></g>
<g id="d18"><rect x="-52" y="1236" width="104" height="114" fill="#A7DA98"/><text y="1241">Maintain the total area of lignum</text><text y="1246">shrubland communities13,14</text><text y="1255">Over a 5-year rolling period, increase</text><text y="1260">the abundance of black box seedlings &amp;</text><text y="1265">saplings in degraded black box woodlands</text><text y="1270">on the managed floodplain, including</text><text y="1275">the Lower Murray &amp; Lower Darling</text><text y="1280">floodplains10</text><text y="1287">Over a 5-year rolling period, maintain</text><text y="1292">the proportion of black box woodlands in</text><text y="1297">moderate or good condition8,10</text><text y="1301">Over a 5-year rolling period, increase</text><text y="1305.500">the abundance of river red gum</text><text y="1310.500">seedlings &amp; saplings11 in degraded</text><text y="1315.500">river red gum forests &amp; woodlands on the</text><text y="1320.500">actively-managed floodplain, including</text><text y="1325.500">the Lower Murray &amp; Lower Darling</text><text y="1330.500">floodplains12</text><text y="1336.500">the proportion of river red gum</text><text y="1341.500">forests &amp; woodlands in moderate or good</text><text y="1346.500">condition8,10</text></g>
<g id="d19"><rect x="-52" y="1350" width="104" height="45" fill="#8E9B80"/><text y="1354">Over a 5-year rolling period, no further</text><text y="1359">decline in the condition of river red</text><text y="1364">gum communities closely fringing river</text><text y="1368">channels (within 50 m) that are in poor</text><text y="1373">or degraded condition8</text><text y="1382">Maintain the 2016 mapped extent7 of</text><text y="1387">river red gum communities closely</text><text y="1392">fringing river channels</text></g>
<g id="d20"><rect x="-52" y="1402" width="104" height="17" fill="#93B389"/><text y="1406.500">No more than 4 years without detection</text><text y="1411.500">of immature fish in specified PUs</text><text y="1416.500">(long-lived species)</text></g>
<g id="d21"><rect x="-52" y="1426" width="104" height="17" fill="#93B389"/><text y="1430.500">No more than 1 year without detection</text><text y="1435.500">of immature fish in specified PUs</text><text y="1440.500">(short-lived)</text></g>
<g id="d22"><rect x="-52" y="1453" width="104" height="11" fill="#A5D396"/><text y="1457">25% increase in abundance of mature</text><text y="1462">golden perch &amp; Murray cod</text></g>
<g id="d23"><rect x="-52" y="1477" width="104" height="11" fill="#8FAD84"/><text y="1481.500">Minimum of 1 significant recruitment</text><text y="1486.500">event in 5 years</text></g>
<g id="d24"><rect x="-52" y="1498" width="104" height="17" fill="#A5D396"/><text y="1502.500">No more than two consecutive years</text><text y="1507.500">without recruitment in moderate-lived</text><text y="1512.500">species</text></g>
<g id="d25"><rect x="-52" y="1522" width="104" height="17" fill="#93B389"/><text y="1526.500">No more than two years without detection</text><text y="1531.500">of immature fish (moderate-lived</text><text y="1536.500">species)</text></g>
<g id="d26"><rect x="-52" y="1546" width="104" height="17" fill="#8FAD84"/><text y="1550.500">Increased distribution &amp; abundance of</text><text y="1555.500">short to moderate-lived species compared</text><text y="1560.500">to 2014 assessment</text></g>
</g>
<g id="colE" transform="translate(3923.500,0)">
<g id="e1"><rect x="-52.500" y="666" width="105" height="24" fill="#8FA284"/><text y="671.500">Establish baseline data on the number</text><text y="676.500">and distribution of wetlands with</text><text y="681.500">breeding activity of flow-dependent frog</text><text y="686.500">species</text></g>
<g id="e2"><rect x="-52.500" y="690" width="105" height="33" fill="#98C18F"/><text y="692.500">The South Australia River Murray 6-20</text><text y="697.500">years in 10 (&gt;20,000 ML/d at the SA</text><text y="702.500">border), including at least 5 events</text><text y="707.500">with major contributions from the Lower</text><text y="712.500">Darling system (including longitudinal</text><text y="717.500">connectivity from source to SA border).</text></g>
<g id="e3"><rect x="-52.500" y="723" width="105" height="11" fill="#A9DB99"/><text y="726.500">groundwater dependent vegetation</text><text y="731.500">communities</text></g>
<g id="e4"><rect x="-52.500" y="738" width="105" height="24" fill="#8FAD84"/><text y="743">Increase lateral connectivity with</text><text y="748">anabranches, low-lying wetlands &amp;</text><text y="753">floodplains, as specified in EWRs for</text><text y="758">large freshes, bankfull &amp; overbank flows</text></g>
<g id="e5"><rect x="-52.500" y="768" width="105" height="12" fill="#97BE8E"/><text y="772">Maintain the abundance &amp; distribution of</text><text y="777.500">decapod crustaceans</text></g>
<g id="e6"><rect x="-52.500" y="786" width="105" height="47" fill="#97BE8E"/><text y="791.500">Incorporate habitat mapping and</text><text y="796.500">reengaging activities into broad-scale</text><text y="801.500">MER and riverbank remediation works for</text><text y="806.500">native fish management and recovery</text><text y="815.500">Maintain or increase the proportion of</text><text y="820.500">wetland &amp; floodplain vegetation that is</text><text y="825.500">in good condition over a 5 year rolling</text><text y="830.500">period</text></g>
<g id="e7" class="wt"><rect x="-52.500" y="833" width="105" height="34" fill="#1C0F3F"/><text y="836.500">The South Australia River Murray 6-20</text><text y="841.500">years in 10 (&gt;20,000 ML/d at the SA</text><text y="846.500">border), including at least 6 events</text><text y="851.500">with major contributions from the Lower</text><text y="856.500">Darling system (including longitudinal</text><text y="861.500">connectivity from source to SA border).</text></g>
<g id="e8"><rect x="-52.500" y="867" width="105" height="84" fill="#97BE8E"/><text y="871">with anabranches, low-lying wetlands and</text><text y="876">floodplains are met (see EWRs for large</text><text y="881">freshes, bankfull &amp; overbank flows)</text><text y="888">Incorporate habitat mapping and</text><text y="893">re-snagging activities into broad-scale</text><text y="898">MER and riverbank remediation works for</text><text y="903">native fish management and recovery</text><text y="908.500">Floodplains wetlands to undergo a drying</text><text y="913.500">phase (partial or full drawdown) for</text><text y="918.500">at least 60 days, 6-10 years in 10</text><text y="923.500">years (including Lower Murray wetlands &amp;</text><text y="928.500">floodplains influenced by weir pools)</text><text y="937.500">Period for which instream freshes are</text><text y="942.500">held at constant level (~ 6%) does not</text><text y="947.500">exceed modelled natural durations</text></g>
<g id="e9"><rect x="-52.500" y="954" width="105" height="24" fill="#8FAD84"/><text y="959">Maintain salinity at &lt; 1000/1800 EC</text><text y="965">_S/cm at key river gauges &amp; in key</text><text y="970">instream refuge pools for 95% of the</text><text y="975">time &amp; &lt;48822 EC _S/cm, 95% of the time</text></g>
<g id="e10"><rect x="-52.500" y="981" width="105" height="17" fill="#8FAD84"/><text y="985.500">Maintain salinity at &lt;350 EC _S/cm in</text><text y="990.500">the Murray River at the SA Border, 80%</text><text y="995.500">of the time</text></g>
<g id="e11"><rect x="-52.500" y="1006" width="105" height="17" fill="#8FAD84"/><text y="1010">Maintain salinity at &lt;800 EC _S/cm in</text><text y="1015">the lower Darling River at Burtundy 95%</text><text y="1020">of the time</text></g>
<g id="e12"><rect x="-52.500" y="1032" width="105" height="11" fill="#8FAD84"/><text y="1036">Maintain permanent inundation of acid</text><text y="1041.500">sulphate soils in key areas</text></g>
<g id="e13"><rect x="-52.500" y="1053" width="105" height="72" fill="#8AA27E"/><text y="1058">Cease-to-flow (CTF) periods do not</text><text y="1063">exceed maximum durations as specified in</text><text y="1068">PU EWRs</text><text y="1074">Maintain or increase extent &amp; improve</text><text y="1079">condition of waterbird foraging &amp;</text><text y="1084">breeding locations in the Mid Murray,</text><text y="1089">Lower Murray &amp; Lower Darling (to be</text><text y="1094">evaluated under targets set for native</text><text y="1099">vegetation)</text><text y="1106.500">(relating vegetation, including common</text><text y="1111.500">reed, lignum, cumbungi, river red gum,</text><text y="1116">giant rush, black box, in known colonial</text><text y="1121">breeding locations in the Mid Murray</text></g>
<g id="e14"><rect x="-52.500" y="1125" width="105" height="37" fill="#E4FBC6"/><text y="1128">&amp; duration of flooding (as required) to</text><text y="1132.500">support breeding through to completion</text><text y="1137.500">(from egg laying through to fledging</text><text y="1142.500">including post-fledging care) &amp;</text><text y="1147.500">maintain duration of flooding in key</text><text y="1152.500">foraging habitats to enhance breeding</text><text y="1157.500">success &amp; the survival of young</text></g>
<g id="e15"><rect x="-52.500" y="1162" width="105" height="7" fill="#8FA284"/><text y="1166.500">compared to 5-year 2012-16 period</text></g>
<g id="e16"><rect x="-52.500" y="1173" width="105" height="19" fill="#8FA284"/><text y="1178">Maintain a 5-year rolling average of 18</text><text y="1183">or more waterbird species across the 5</text><text y="1188">functional groups in the Lower Murray</text></g>
<g id="e17"><rect x="-52.500" y="1195" width="105" height="45" fill="#A5D396"/><text y="1199">Over a 5-year rolling period increase</text><text y="1204">the abundance of lignum recruits in</text><text y="1209">degraded lignum shrublands17. Evaluated</text><text y="1214">at selected sites.</text><text y="1223.500">Over a 5-year rolling period, maintain</text><text y="1228.500">or increase the proportion of lignum</text><text y="1233.500">communities in intermediate to good</text><text y="1238">condition10</text></g>
<g id="e18"><rect x="-52.500" y="1245" width="105" height="17" fill="#A5D396"/><text y="1250.500">Maintain the 2016 mapped extent7 of</text><text y="1255.500">coolibah communities on the Lower</text><text y="1260.500">Darling and Talyawalka Creek floodplains</text></g>
<g id="e19"><rect x="-52.500" y="1266" width="105" height="24" fill="#A5D396"/><text y="1271.500">Over a 5-year rolling period, no</text><text y="1276.500">further decline in the condition of</text><text y="1281.500">black box woodlands in poor or degraded</text><text y="1286.500">condition8,10</text></g>
<g id="e20"><rect x="-52.500" y="1296" width="105" height="12" fill="#A5D396"/><text y="1300.500">Maintain the 2016 mapped extent7 of</text><text y="1305.500">black box woodland communities10</text></g>
<g id="e21"><rect x="-52.500" y="1314" width="105" height="23" fill="#A5D396"/><text y="1320">Over a 5-year rolling period, no further</text><text y="1325">decline in the condition of river red</text><text y="1330">gum forests &amp; woodlands in poor or</text><text y="1335">degraded condition8,10</text></g>
<g id="e22"><rect x="-52.500" y="1341" width="105" height="18" fill="#A5D396"/><text y="1346">Maintain the 2016 mapped extent7 of</text><text y="1351">river red gum forest and woodland</text><text y="1356">communities10</text></g>
<g id="e23"><rect x="-52.500" y="1359" width="105" height="31" fill="#8E9B80"/><text y="1365.500">Over a 5-year rolling period, maintain</text><text y="1370.500">the proportion of river red gum</text><text y="1375.500">communities closely fringing river</text><text y="1380.500">channels (within 50 m) that are in</text><text y="1385.500">moderate or good condition8</text></g>
<g id="e24"><rect x="-52.500" y="1390" width="105" height="17" fill="#92A585"/><text y="1394">No loss of existing non-woody vegetation</text><text y="1399">occurring within channels or closely</text><text y="1404">fringing river channels8</text></g>
<g id="e25"><rect x="-52.500" y="1413" width="105" height="18" fill="#93B389"/><text y="1418">No more than 2 years without detection</text><text y="1423">of immature fish in specified PUs</text><text y="1428">(moderate-lived species)</text></g>
<g id="e26"><rect x="-52.500" y="1440" width="105" height="12" fill="#93B389"/><text y="1444">Adults detected annually in specified</text><text y="1450">PUs</text></g>
<g id="e27"><rect x="-52.500" y="1462" width="105" height="17" fill="#93B389"/><text y="1467">Length-frequency distributions include</text><text y="1472">size classes of legal take size, for</text><text y="1477">golden perch &amp; Murray cod</text></g>
<g id="e28"><rect x="-52.500" y="1486" width="105" height="17" fill="#93B389"/><text y="1491">No more than four consecutive years</text><text y="1496">without recruitment in long-lived</text><text y="1501">species</text></g>
<g id="e29"><rect x="-52.500" y="1516" width="102" height="5" fill="#93B389"/><text y="1519.500" x="-1">Juvenile &amp; adult fish detected annually</text></g>
<g id="e30"><rect x="-52.500" y="1536" width="105" height="12" fill="#93B389"/><text y="1541">No more than one year without detection</text><text y="1546">of immature fish (short-lived)</text></g>
<g id="e31"><rect x="-53" y="1563" width="92" height="6" fill="#93B389"/><text y="1567.500" x="-7">All known species detected annually</text></g>
</g>
<g id="colB" transform="translate(3610,0)">
<g id="b1"><rect x="-53" y="948" width="106" height="11.500" fill="#A9DB99"/><text y="952.500">Maintain water-dependent species</text><text y="957.500">richness</text></g>
<g id="b2"><rect x="-53" y="972" width="106" height="11.500" fill="#86647F"/><text y="977">Maintain species richness of</text><text y="981.500">flow-dependent frog communities</text></g>
<g id="b3"><rect x="-53" y="996" width="106" height="12" fill="#97BE8E"/><text y="1000.500">Support groundwater conditions to</text><text y="1005.500">sustain groundwater dependent biota</text></g>
<g id="b4"><rect x="-53" y="1020" width="106" height="12" fill="#8C8080"/><text y="1024.800">Support instream &amp; floodplain</text><text y="1029.500">productivity</text></g>
<g id="b5"><rect x="-53" y="1038" width="106" height="24" fill="#8C8578"/><text y="1043">Provide movement and dispersal</text><text y="1048">opportunities for water dependent biota</text><text y="1053">to complete lifecycles and disperse into</text><text y="1058">new habitats within catchments</text></g>
<g id="b6"><rect x="-53" y="1068" width="106" height="12" fill="#8D8E80"/><text y="1072.500">Provide &amp; protect a diversity of refugia</text><text y="1077.500">across the landscape</text></g>
<g id="b7"><rect x="-53" y="1092" width="106" height="12" fill="#A5D396"/><text y="1096.500">Increase opportunities for colonial</text><text y="1101.500">waterbird breeding*</text></g>
<g id="b8" class="wt"><rect x="-53" y="1116" width="106" height="12" fill="#5E2A64"/><text y="1120.800">Increase total waterbird abundance</text><text y="1125.800">across all functional groups</text></g>
<g id="b9"><rect x="-53" y="1134" width="106" height="24" fill="#97BE8E"/><text y="1139.800">Maintain or increase the extent &amp;</text><text y="1145">maintain or improve the condition of</text><text y="1150">native woodland &amp; shrubland communities</text><text y="1155">on floodplains</text></g>
<g id="b10"><rect x="-53" y="1158" width="106" height="24" fill="#8D7F7C"/><text y="1164">Maintain the extent &amp; viability of</text><text y="1169">non-woody vegetation communities</text><text y="1174">occurring within or closely fringing</text><text y="1179">river channels</text></g>
<g id="b11"><rect x="-53" y="1182" width="106" height="27" fill="#8C8B7C"/><text y="1185.500">Increase the prevalence and/or expand</text><text y="1190.500">the population of key moderate to</text><text y="1195.500">long-lived riverine specialist native</text><text y="1200.500">fish species into new areas (within</text><text y="1205.500">historical range)</text></g>
<g id="b12"><rect x="-53" y="1209" width="106" height="18" fill="#8FAD84"/><text y="1214">A 25% increase in abundance of mature</text><text y="1219">(harvestable sized) golden perch &amp;</text><text y="1224">Murray cod</text></g>
<g id="b13"><rect x="-53" y="1233" width="106" height="18" fill="#97BE8E"/><text y="1238">Improve native fish population structure</text><text y="1243">for moderate to long-lived flow-pulse</text><text y="1248">specialist native fish species</text></g>
<g id="b14"><rect x="-53" y="1257" width="106" height="18" fill="#8D8E80"/><text y="1262">Increase the distribution &amp; abundance</text><text y="1267">of short to moderate-lived generalist</text><text y="1272">native fish species</text></g>
</g>
<g id="c14" transform="translate(3712,0)"><rect x="-39" y="1275" width="78" height="5" fill="#8D9A80"/><text y="1279">No loss of native fish species</text></g>
</g>
</svg>
